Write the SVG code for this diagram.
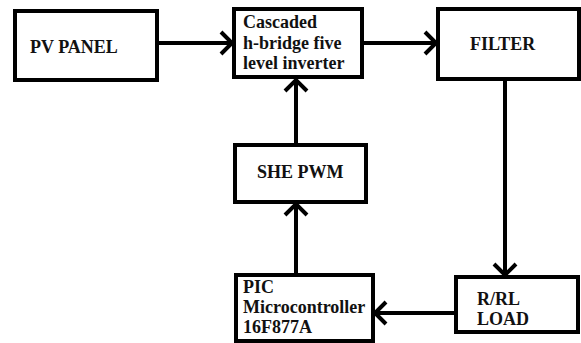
<svg xmlns="http://www.w3.org/2000/svg" width="581" height="343" viewBox="0 0 581 343">
<style>
.box{fill:#fff;stroke:#000;stroke-width:4}
.t{font-family:"Liberation Serif","Times New Roman",serif;font-weight:bold;font-size:18px;fill:#111}
.c{fill:none;stroke:#000;stroke-width:4}
</style>
<defs>
<marker id="a" markerUnits="userSpaceOnUse" markerWidth="20" markerHeight="26" refX="14" refY="13" orient="auto" viewBox="0 0 20 26">
<polyline points="3,2 14,13 3,24" fill="none" stroke="#000" stroke-width="4"/>
</marker>
</defs>
<g id="connectors">
<line class="c" x1="157" y1="43" x2="232" y2="43" marker-end="url(#a)"/>
<line class="c" x1="362" y1="43" x2="436" y2="43" marker-end="url(#a)"/>
<line class="c" x1="296" y1="145" x2="296" y2="80" marker-end="url(#a)"/>
<line class="c" x1="296" y1="275" x2="296" y2="204" marker-end="url(#a)"/>
<line class="c" x1="505" y1="80" x2="505" y2="275" marker-end="url(#a)"/>
<line class="c" x1="456" y1="313" x2="375" y2="313" marker-end="url(#a)"/>
</g>
<g id="pv"><rect class="box" x="15" y="11" width="142" height="69"/><text class="t" x="30" y="53">PV PANEL</text></g>
<g id="inverter"><rect class="box" x="234" y="9" width="128" height="68"/><text class="t" x="243" y="28">Cascaded</text><text class="t" x="243" y="49">h-bridge five</text><text class="t" x="243" y="69">level inverter</text></g>
<g id="filter"><rect class="box" x="438" y="9" width="141" height="70"/><text class="t" x="470" y="50">FILTER</text></g>
<g id="she"><rect class="box" x="235" y="145" width="131" height="57"/><text class="t" x="257" y="178">SHE PWM</text></g>
<g id="pic"><rect class="box" x="236" y="275" width="137" height="66"/><text class="t" x="243" y="293">PIC</text><text class="t" x="243" y="313">Microcontroller</text><text class="t" x="243" y="333">16F877A</text></g>
<g id="load"><rect class="box" x="456" y="277" width="122" height="55"/><text class="t" x="477" y="305">R/RL</text><text class="t" x="477" y="325">LOAD</text></g>
</svg>
